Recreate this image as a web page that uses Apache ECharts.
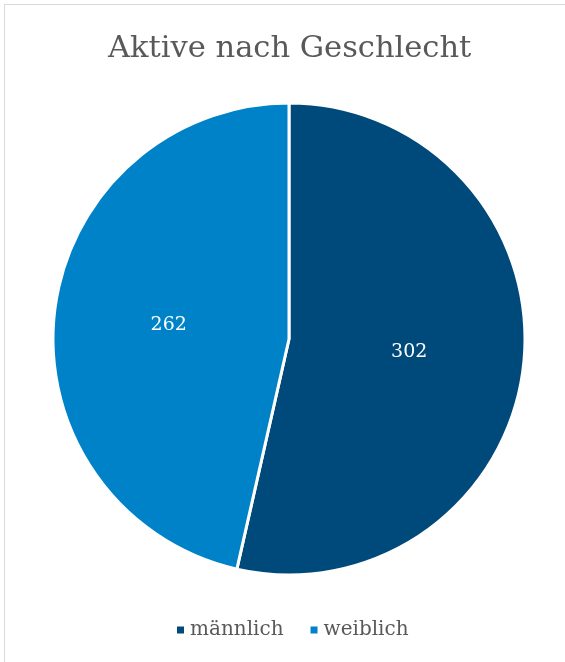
<!DOCTYPE html>
<html>
<head>
<meta charset="utf-8">
<script src="https://cdn.jsdelivr.net/npm/echarts@6/dist/echarts.min.js"></script>
<style>
html,body{margin:0;padding:0;background:#fff;}
#frame{position:absolute;left:4px;top:4px;width:561px;height:658px;border-left:1px solid #d9d9d9;border-top:1px solid #d9d9d9;box-sizing:border-box;}
#chart{position:absolute;left:0;top:0;width:565px;height:662px;}
</style>
</head>
<body>
<div id="frame"></div>
<div id="chart"></div>
<script>
const titleText = 'Aktive nach Geschlecht';
const categories = ['männlich', 'weiblich'];
const values = [302, 262];
const colors = ['#00497B', '#0082C8'];

const chart = echarts.init(document.getElementById('chart'), null, {renderer: 'canvas'});
chart.setOption({
  backgroundColor: 'transparent',
  animation: false,
  title: {
    text: titleText,
    left: 103,
    top: 29,
    textStyle: {fontFamily: 'DejaVu Serif', fontWeight: 'normal', fontSize: 30.5, color: '#595959'}
  },
  legend: {
    data: categories,
    bottom: 17,
    left: 170,
    icon: 'rect',
    itemWidth: 9,
    itemHeight: 9,
    itemGap: 25,
    itemTextGap: 9,
    textStyle: {fontFamily: 'DejaVu Serif', fontSize: 20, color: '#595959'}
  },
  series: [{
    type: 'pie',
    center: [289, 339],
    radius: 236,
    startAngle: 90,
    clockwise: true,
    data: categories.map((c, i) => ({name: c, value: values[i], itemStyle: {color: colors[i]}})),
    itemStyle: {borderColor: '#fff', borderWidth: 3},
    label: {show: true, position: 'inside', formatter: '{c}', color: '#fff', fontFamily: 'DejaVu Serif', fontSize: 19},
    labelLine: {show: false},
    emphasis: {disabled: true}
  }]
});
</script>
</body>
</html>
